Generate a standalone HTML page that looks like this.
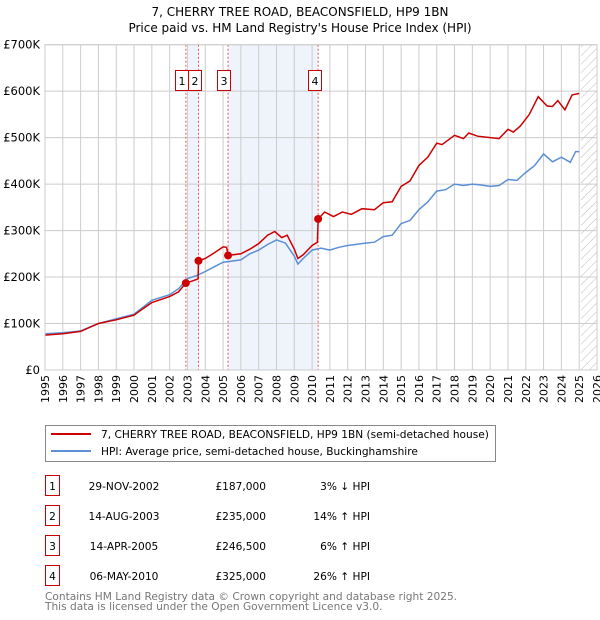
<!DOCTYPE html>
<html><head><meta charset="utf-8"><style>
body{margin:0;background:#fff;font-family:"DejaVu Sans","Liberation Sans",sans-serif;}
#wrap{position:relative;width:600px;height:620px;overflow:hidden}
svg text{font-family:"DejaVu Sans","Liberation Sans",sans-serif;}
</style></head><body><div id="wrap">
<svg id="c" width="600" height="620" style="position:absolute;left:0;top:0"></svg>
</div>
<script>
const years=[1995,1996,1997,1998,1999,2000,2001,2002,2003,2004,2005,2006,2007,2008,2009,2010,2011,2012,2013,2014,2015,2016,2017,2018,2019,2020,2021,2022,2023,2024,2025,2026];
const yTicks=[0,100,200,300,400,500,600,700];
const yTickLabels=["£0","£100K","£200K","£300K","£400K","£500K","£600K","£700K"];
const hpiT=[1995,1996,1997,1998,1999,2000,2000.5,2001,2002,2002.5,2003,2003.5,2004,2004.5,2005,2006,2006.5,2007,2007.5,2008,2008.5,2009,2009.2,2009.5,2010,2010.5,2011,2011.5,2012,2013,2013.5,2014,2014.5,2015,2015.5,2016,2016.5,2017,2017.5,2018,2018.5,2019,2019.5,2020,2020.5,2021,2021.5,2022,2022.5,2023,2023.5,2024,2024.5,2024.8,2025];
const hpiV=[78,80,84,100,110,120,135,150,162,175,197,203,212,222,232,237,250,258,270,280,273,245,228,240,258,262,258,264,268,273,275,287,290,315,322,345,362,385,388,400,397,400,398,395,397,410,408,425,440,465,448,458,447,470,470];
const priceT=[1995,1996,1997,1998,1999,2000,2000.5,2001,2002,2002.5,2002.91,2003.3,2003.6,2003.62,2004,2004.5,2005,2005.2,2005.28,2006,2006.5,2007,2007.5,2007.9,2008.3,2008.6,2009,2009.2,2009.5,2010,2010.3,2010.34,2010.7,2011.2,2011.7,2012.2,2012.8,2013.5,2014,2014.5,2015,2015.5,2016,2016.5,2017,2017.3,2018,2018.5,2018.8,2019.3,2020,2020.5,2021,2021.3,2021.7,2022.2,2022.7,2023.2,2023.5,2023.8,2024.2,2024.6,2025];
const priceV=[75,78,83,100,108,118,132,145,158,168,187,192,196,235,240,252,265,264,246.5,250,260,272,290,298,285,290,260,240,248,268,275,325,340,330,340,335,347,345,360,362,395,407,440,458,488,485,505,498,510,503,500,498,518,512,525,550,588,568,567,580,560,592,595];
const saleT=[2002.91,2003.62,2005.28,2010.34];
const saleV=[187,235,246.5,325];
const saleLabels=["1","2","3","4"];
const tDates=["29-NOV-2002","14-AUG-2003","14-APR-2005","06-MAY-2010"];
const tPrices=["£187,000","£235,000","£246,500","£325,000"];
const tHpi=["3% ↓ HPI","14% ↑ HPI","6% ↑ HPI","26% ↑ HPI"];

const L=45,R=597,T=44.7,B=370;
const X=t=>L+(t-1995)/(2026-1995)*(R-L);
const Y=v=>B-v/700*(B-T);
const svg=document.getElementById('c');
const NS='http://www.w3.org/2000/svg';
function mk(tag,at,txt){const e=document.createElementNS(NS,tag);for(const k in at)e.setAttribute(k,at[k]);if(txt!==undefined)e.textContent=txt;svg.appendChild(e);return e;}

let e;
e=mk('text',{x:300,y:16,'text-anchor':'middle','font-size':12},'7, CHERRY TREE ROAD, BEACONSFIELD, HP9 1BN');


e=mk('text',{x:300,y:32,'text-anchor':'middle','font-size':12},"Price paid vs. HM Land Registry's House Price Index (HPI)");



e=mk('rect',{x:X(2003.0),y:T,width:X(saleT[1])-X(2003.0),height:B-T,fill:'#eef3fc'});


e=mk('rect',{x:X(saleT[2]),y:T,width:X(saleT[3])-X(saleT[2]),height:B-T,fill:'#eef3fc'});



const defs=mk('defs',{});
defs.innerHTML='<pattern id="h" width="6" height="6" patternUnits="userSpaceOnUse" patternTransform="rotate(45)"><line x1="0" y1="0" x2="0" y2="6" stroke="#bbb" stroke-width="1"/></pattern>';
e=mk('rect',{x:X(2025.1),y:T,width:R-X(2025.1),height:B-T,fill:'url(#h)'});



years.forEach(yr=>{e=mk('line',{x1:X(yr),x2:X(yr),y1:T,y2:B,stroke:'#ccc','stroke-width':1});

});
yTicks.forEach((v,i)=>{e=mk('line',{x1:L,x2:R,y1:Y(v),y2:Y(v),stroke:'#ccc','stroke-width':1});


e=mk('text',{x:40,y:Y(v)+4,'text-anchor':'end','font-size':11.5},yTickLabels[i]);

});
years.forEach((yr,i)=>{const x=X(yr)+4;e=mk('text',{x:x,y:375,'text-anchor':'end','font-size':11,transform:'rotate(-90 '+x+' 375)'},String(yr));

});

saleT.forEach((t,i)=>{e=mk('line',{x1:X(t),x2:X(t),y1:T,y2:B,stroke:'#e55','stroke-width':1,'stroke-dasharray':'2,2'});

});

const path=(ts,vs)=>ts.map((t,i)=>(i?'L':'M')+X(t).toFixed(1)+','+Y(vs[i]).toFixed(1)).join('');
e=mk('path',{d:path(hpiT,hpiV),fill:'none',stroke:'#5b8fd6','stroke-width':1.5});


e=mk('path',{d:path(priceT,priceV),fill:'none',stroke:'#cc0000','stroke-width':1.5});


saleT.forEach((t,i)=>{e=mk('circle',{cx:X(t),cy:Y(saleV[i]),r:4,fill:'#cc0000'});

});

const bx=[175,188,217,308];
saleLabels.forEach((s,i)=>{e=mk('rect',{x:bx[i]+0.5,y:70.5,width:13,height:20,fill:'#fff',stroke:'#cc0000'});


e=mk('text',{x:bx[i]+7,y:85,'text-anchor':'middle','font-size':11},s);

});

e=mk('rect',{x:L,y:T,width:R-L,height:B-T,fill:'none',stroke:'#ccc'});



e=mk('rect',{x:45.5,y:425.5,width:450,height:36,fill:'#fff',stroke:'#888'});


e=mk('line',{x1:51,x2:91,y1:434,y2:434,stroke:'#cc0000','stroke-width':2});


e=mk('text',{x:101,y:438,'font-size':10.6},'7, CHERRY TREE ROAD, BEACONSFIELD, HP9 1BN (semi-detached house)');


e=mk('line',{x1:51,x2:91,y1:451,y2:451,stroke:'#5b8fd6','stroke-width':2});


e=mk('text',{x:101,y:455,'font-size':10.6},'HPI: Average price, semi-detached house, Buckinghamshire');



saleLabels.forEach((s,i)=>{const y=475+i*30;
e=mk('rect',{x:45.5,y:y+0.5,width:14,height:20,fill:'#fff',stroke:'#cc0000'});


e=mk('text',{x:52.5,y:y+15,'text-anchor':'middle','font-size':10.6},s);


e=mk('text',{x:124,y:y+15,'text-anchor':'middle','font-size':10.6},tDates[i]);


e=mk('text',{x:266,y:y+15,'text-anchor':'end','font-size':10.6},tPrices[i]);


e=mk('text',{x:370,y:y+15,'text-anchor':'end','font-size':10.6},tHpi[i]);

});

e=mk('text',{x:45,y:600,'font-size':10.6,fill:'#777'},'Contains HM Land Registry data © Crown copyright and database right 2025.');


e=mk('text',{x:45,y:610,'font-size':10.6,fill:'#777'},'This data is licensed under the Open Government Licence v3.0.');


</script></body></html>
